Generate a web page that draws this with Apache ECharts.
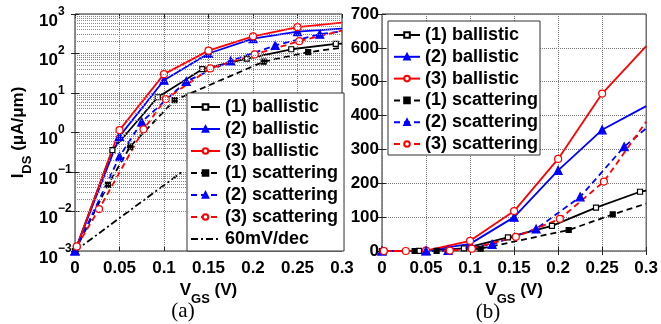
<!DOCTYPE html>
<html><head><meta charset="utf-8">
<script src="https://cdn.jsdelivr.net/npm/echarts@6/dist/echarts.min.js"></script>
<style>html,body{margin:0;padding:0;background:#fff}#c{width:661px;height:324px}</style>
</head><body><div id="c"></div>
<script>
// ---------- data ----------
const names = ['(1) ballistic','(2) ballistic','(3) ballistic','(1) scattering','(2) scattering','(3) scattering','60mV/dec'];
const vgs1B = [0, 0.042, 0.093, 0.143, 0.193, 0.243, 0.293, 0.3];
const ids1B = [0.001, 0.36, 7.8, 40, 74, 128, 175, 178];
const vgs2B = [0, 0.05, 0.1, 0.15, 0.2, 0.25, 0.3];
const ids2B = [0.001, 0.8, 21, 100, 238, 358, 428];
const vgs3B = [0.002, 0.05, 0.1, 0.15, 0.2, 0.25, 0.3];
const ids3B = [0.0013, 1.15, 30, 118, 272, 465, 605];
const vgs1S = [0, 0.037, 0.062, 0.112, 0.212, 0.262, 0.3];
const ids1S = [0.001, 0.047, 0.44, 6.6, 62, 108, 140];
const vgs2S = [0, 0.05, 0.075, 0.125, 0.175, 0.225, 0.275, 0.3];
const ids2S = [0.001, 0.245, 1.85, 19.6, 65, 160, 308, 362];
const vgs3S = [0.002, 0.027, 0.077, 0.102, 0.152, 0.202, 0.252, 0.3];
const ids3S = [0.0013, 0.0115, 1.2, 7, 42, 95, 205, 382];
const vgs60 = [0, 0.12];
const ids60 = [0.001, 0.1];
const logDecades = [-3, -2, -1, 0, 1, 2, 3];
const captions = ['(a)', '(b)'];

// ---------- styling ----------
const FONT = '"Liberation Sans", Arial, Helvetica, sans-serif';
const BLACK = '#000', BLUE = '#0000ff', RED = '#ff0000';
const SOLID = 'solid', DASH = [6, 4];
const styleMap = {
  '(1) ballistic':  {c: BLACK, t: SOLID, s: 'rect', sz: 5, open: true},
  '(2) ballistic':  {c: BLUE,  t: SOLID, s: 'triangle', sz: 8, open: false},
  '(3) ballistic':  {c: RED,   t: SOLID, s: 'circle', sz: 7, open: true},
  '(1) scattering': {c: BLACK, t: DASH,  s: 'rect', sz: 5, open: false},
  '(2) scattering': {c: BLUE,  t: DASH,  s: 'triangle', sz: 8, open: false},
  '(3) scattering': {c: RED,   t: DASH,  s: 'circle', sz: 7, open: true},
  '60mV/dec':       {c: BLACK, t: [7, 3, 2, 3], s: 'circle', sz: 0, open: false, noSym: true}
};
const dataMap = {
  '(1) ballistic': [vgs1B, ids1B], '(2) ballistic': [vgs2B, ids2B], '(3) ballistic': [vgs3B, ids3B],
  '(1) scattering': [vgs1S, ids1S], '(2) scattering': [vgs2S, ids2S], '(3) scattering': [vgs3S, ids3S],
  '60mV/dec': [vgs60, ids60]
};
function pts(name) {
  const [xs, ys] = dataMap[name];
  return xs.map((x, i) => x >= 0.3 ? {value: [x, ys[i]], symbol: 'none'} : [x, ys[i]]);
}
function mkSeries(name, gi) {
  const st = styleMap[name];
  return {
    name, type: 'line', xAxisIndex: gi * 2, yAxisIndex: gi * 2, z: 3,
    data: pts(name), symbol: st.s, symbolSize: st.sz, showSymbol: !st.noSym,
    animation: false, clip: true,
    lineStyle: {color: st.c, width: 1.8, type: st.t},
    itemStyle: st.noSym ? {color: 'rgba(0,0,0,0)', borderWidth: 0}
      : {color: st.open ? '#fff' : st.c, borderColor: st.c, borderWidth: 1.2}
  };
}
const xFmt = v => String(+(+v).toFixed(2));
const labelBase = {color: '#000', fontSize: 17, fontWeight: 'bold', fontFamily: FONT};
const nameRich = {
  m: {fontSize: 17, fontWeight: 'bold', fontFamily: FONT, color: '#000', lineHeight: 17, verticalAlign: 'top'},
  s: {fontSize: 13, fontWeight: 'bold', fontFamily: FONT, color: '#000', lineHeight: 13, padding: [11, 0, 0, 0], verticalAlign: 'top'}
};
const expRich = {
  b: {fontSize: 17, fontWeight: 'bold', fontFamily: FONT, color: '#000', lineHeight: 17, padding: [7, 0, 0, 0], verticalAlign: 'top'},
  e: {fontSize: 12, fontWeight: 'bold', fontFamily: FONT, color: '#000', lineHeight: 12, verticalAlign: 'top'}
};
const grids = [
  {left: 75, top: 14, width: 267, height: 237, show: true, borderColor: '#222', borderWidth: 1, backgroundColor: '#fff'},
  {left: 382, top: 14, width: 270, height: 237, show: true, borderColor: '#222', borderWidth: 1, backgroundColor: '#fff'}
];
const gridLine = {show: true, lineStyle: {type: 'dotted', color: '#777', width: 1}};
function xAxes(gi) {
  return [
    {type: 'value', gridIndex: gi, min: 0, max: 0.3, interval: 0.05, position: 'bottom',
     axisLine: {show: false}, axisTick: {inside: true, length: 4, lineStyle: {color: '#222'}},
     axisLabel: Object.assign({margin: 9, formatter: xFmt}, labelBase),
     splitLine: gridLine,
     name: '{m|V}{s|GS}{m| (V)}', nameLocation: 'middle', nameGap: 23,
     nameTextStyle: {rich: nameRich}},
    {type: 'value', gridIndex: gi, min: 0, max: 0.3, interval: 0.05, position: 'top',
     axisLine: {show: false}, axisTick: {inside: true, length: 4, lineStyle: {color: '#222'}},
     axisLabel: {show: false}, splitLine: {show: false}}
  ];
}
const yAxesA = [
  {type: 'log', logBase: 10, gridIndex: 0, min: 0.001, max: 1000, interval: 1, position: 'left',
   axisLine: {show: false}, axisTick: {inside: true, length: 4, lineStyle: {color: '#222'}},
   axisLabel: {margin: 36, align: 'left', formatter: v => {
     const e = Math.round(Math.log10(v));
     return '{b|10}{e|' + (e < 0 ? '\u2212' + (-e) : e) + '}';
   }, rich: expRich},
   splitLine: gridLine,
   name: '{m|I}{s|DS}{m| (\u03bcA/\u03bcm)}', nameLocation: 'middle', nameGap: 48,
   nameTextStyle: {rich: nameRich}},
  {type: 'log', logBase: 10, gridIndex: 0, min: 0.001, max: 1000, interval: 1, position: 'right',
   axisLine: {show: false}, axisTick: {inside: true, length: 4, lineStyle: {color: '#222'}},
   axisLabel: {show: false}, splitLine: {show: false}}
];
const yAxesB = [
  {type: 'value', gridIndex: 1, min: 0, max: 700, interval: 100, position: 'left',
   axisLine: {show: false}, axisTick: {inside: true, length: 4, lineStyle: {color: '#222'}},
   axisLabel: Object.assign({margin: 3}, labelBase), splitLine: gridLine},
  {type: 'value', gridIndex: 1, min: 0, max: 700, interval: 100, position: 'right',
   axisLine: {show: false}, axisTick: {inside: true, length: 4, lineStyle: {color: '#222'}},
   axisLabel: {show: false}, splitLine: {show: false}}
];
// minor log grid lines (2..9 per decade) drawn through the log axis
const minorVals = [];
logDecades.slice(0, -1).forEach(d => { for (let k = 2; k <= 9; k++) minorVals.push(k * Math.pow(10, d)); });
const minorSeries = {
  type: 'line', xAxisIndex: 0, yAxisIndex: 0, z: 1, data: [], silent: true, animation: false,
  markLine: {silent: true, symbol: ['none', 'none'], animation: false, label: {show: false},
    lineStyle: {type: 'dotted', color: '#888', width: 1},
    data: minorVals.map(v => ({yAxis: v}))}
};
const legendText = {fontSize: 18, fontWeight: 'bold', fontFamily: FONT, color: '#000', lineHeight: 18};
const option = {
  animation: false,
  backgroundColor: '#fff',
  grid: grids,
  xAxis: xAxes(0).concat(xAxes(1)),
  yAxis: yAxesA.concat(yAxesB),
  legend: [
    {data: names, orient: 'vertical', left: 187, top: 93, itemWidth: 29, itemHeight: 7, itemGap: 4,
     padding: [5, 6, 3, 3], borderColor: '#333', borderWidth: 1, backgroundColor: '#fff',
     textStyle: legendText, selectedMode: false, z: 10},
    {data: names.slice(0, 6), orient: 'vertical', left: 388, top: 21, itemWidth: 26, itemHeight: 7, itemGap: 3.8,
     padding: [5, 2, 2, 5], borderColor: '#333', borderWidth: 1, backgroundColor: '#fff',
     textStyle: legendText, selectedMode: false, z: 10}
  ],
  graphic: [
    {type: 'text', x: 183, y: 311, z: 10, style: {text: captions[0], font: '21px "Liberation Serif", "Times New Roman", serif', fill: '#000', align: 'center', verticalAlign: 'middle'}},
    {type: 'text', x: 488, y: 312, z: 10, style: {text: captions[1], font: '21px "Liberation Serif", "Times New Roman", serif', fill: '#000', align: 'center', verticalAlign: 'middle'}}
  ],
  series: [minorSeries]
    .concat(names.map(n => mkSeries(n, 0)))
    .concat(names.slice(0, 6).map(n => mkSeries(n, 1)))
};
const chart = echarts.init(document.getElementById('c'), null, {renderer: 'canvas'});
chart.setOption(option);
</script></body></html>
